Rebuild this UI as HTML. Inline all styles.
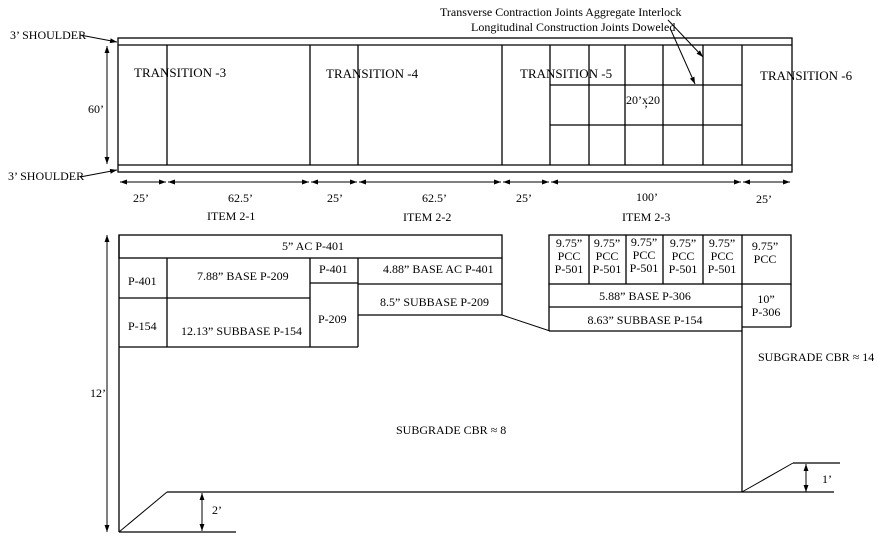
<!DOCTYPE html>
<html><head><meta charset="utf-8"><style>
html,body{margin:0;padding:0;background:#fff;}
svg{display:block;}
text{font-family:"Liberation Serif",serif;font-size:12px;fill:#000;}
.t{font-size:13px;}
</style></head><body>
<svg width="878" height="538" viewBox="0 0 878 538" xmlns="http://www.w3.org/2000/svg">
<defs>
<marker id="a" viewBox="0 0 10 10" refX="10" refY="5" markerWidth="7" markerHeight="7" orient="auto-start-reverse"><path d="M0,1.5 L10,5 L0,8.5 z" fill="#000"/></marker>
</defs>
<g stroke="#000" stroke-width="1.3" fill="none">
<!-- plan -->
<rect x="118" y="38" width="674" height="134"/>
<line x1="118" y1="45" x2="792" y2="45"/>
<line x1="118" y1="165" x2="792" y2="165"/>
<line x1="167" y1="45" x2="167" y2="165"/>
<line x1="310" y1="45" x2="310" y2="165"/>
<line x1="358" y1="45" x2="358" y2="165"/>
<line x1="502" y1="45" x2="502" y2="165"/>
<line x1="550" y1="45" x2="550" y2="165"/>
<line x1="589" y1="45" x2="589" y2="165"/>
<line x1="625" y1="45" x2="625" y2="165"/>
<line x1="663" y1="45" x2="663" y2="165"/>
<line x1="703" y1="45" x2="703" y2="165"/>
<line x1="742" y1="45" x2="742" y2="165"/>
<line x1="550" y1="85" x2="742" y2="85"/>
<line x1="550" y1="125" x2="742" y2="125"/>
</g>
<g stroke="#000" stroke-width="1" fill="none">
<line x1="80" y1="35" x2="117" y2="42" marker-end="url(#a)"/>
<line x1="80" y1="177" x2="117" y2="170" marker-end="url(#a)"/>
<line x1="107" y1="46" x2="107" y2="164" marker-start="url(#a)" marker-end="url(#a)"/>
<line x1="668" y1="20" x2="703" y2="57" marker-end="url(#a)"/>
<line x1="670" y1="28" x2="695" y2="84" marker-end="url(#a)"/>
<line x1="120" y1="182" x2="166" y2="182" marker-start="url(#a)" marker-end="url(#a)"/>
<line x1="168" y1="182" x2="309" y2="182" marker-start="url(#a)" marker-end="url(#a)"/>
<line x1="311" y1="182" x2="357" y2="182" marker-start="url(#a)" marker-end="url(#a)"/>
<line x1="359" y1="182" x2="501" y2="182" marker-start="url(#a)" marker-end="url(#a)"/>
<line x1="503" y1="182" x2="549" y2="182" marker-start="url(#a)" marker-end="url(#a)"/>
<line x1="551" y1="182" x2="741" y2="182" marker-start="url(#a)" marker-end="url(#a)"/>
<line x1="743" y1="182" x2="790" y2="182" marker-start="url(#a)" marker-end="url(#a)"/>
<line x1="107" y1="235" x2="107" y2="532" marker-start="url(#a)" marker-end="url(#a)"/>
<line x1="202" y1="493" x2="202" y2="531" marker-start="url(#a)" marker-end="url(#a)"/>
<line x1="806" y1="464" x2="806" y2="492" marker-start="url(#a)" marker-end="url(#a)"/>
<line x1="119" y1="532" x2="167" y2="492"/>
<line x1="742" y1="492" x2="793" y2="463"/>
<line x1="502" y1="315" x2="550" y2="331"/>
</g>
<g stroke="#000" stroke-width="1.3" fill="none">
<!-- section -->
<rect x="119" y="235" width="383" height="23"/>
<line x1="119" y1="235" x2="119" y2="532"/>
<line x1="119" y1="298" x2="310" y2="298"/>
<line x1="119" y1="347" x2="358" y2="347"/>
<line x1="167" y1="258" x2="167" y2="347"/>
<line x1="310" y1="258" x2="310" y2="347"/>
<line x1="358" y1="258" x2="358" y2="347"/>
<line x1="310" y1="283" x2="358" y2="283"/>
<line x1="358" y1="284" x2="502" y2="284"/>
<line x1="358" y1="315" x2="502" y2="315"/>
<line x1="502" y1="258" x2="502" y2="315"/>
<rect x="549" y="235" width="242" height="49"/>
<line x1="589" y1="235" x2="589" y2="284"/>
<line x1="626" y1="235" x2="626" y2="284"/>
<line x1="663" y1="235" x2="663" y2="284"/>
<line x1="703" y1="235" x2="703" y2="284"/>
<line x1="742" y1="235" x2="742" y2="492"/>
<line x1="549" y1="284" x2="549" y2="331"/>
<line x1="549" y1="307" x2="742" y2="307"/>
<line x1="549" y1="331" x2="742" y2="331"/>
<line x1="791" y1="284" x2="791" y2="327"/>
<line x1="742" y1="327" x2="791" y2="327"/>
<line x1="119" y1="532" x2="236" y2="532"/>
<line x1="167" y1="492" x2="742" y2="492"/>
<line x1="742" y1="492" x2="834" y2="492"/>
<line x1="793" y1="463" x2="840" y2="463"/>
</g>
<text x="440" y="16">Transverse Contraction Joints Aggregate Interlock</text>
<text x="471" y="31">Longitudinal Construction Joints Doweled</text>
<text x="10" y="39">3’ SHOULDER</text>
<text x="8" y="180">3’ SHOULDER</text>
<text x="88" y="113">60’</text>
<text class="t" x="134" y="77">TRANSITION -3</text>
<text class="t" x="326" y="78">TRANSITION -4</text>
<text class="t" x="520" y="78">TRANSITION -5</text>
<text class="t" x="760" y="80">TRANSITION -6</text>
<text x="626" y="104">20’x20</text>
<text x="644" y="113">’</text>
<text x="133" y="202">25’</text>
<text x="228" y="202">62.5’</text>
<text x="327" y="202">25’</text>
<text x="422" y="202">62.5’</text>
<text x="516" y="202">25’</text>
<text x="636" y="201">100’</text>
<text x="756" y="203">25’</text>
<text x="207" y="220">ITEM 2-1</text>
<text x="403" y="221">ITEM 2-2</text>
<text x="622" y="221">ITEM 2-3</text>
<text x="282" y="250">5” AC  P-401</text>
<text x="128" y="285">P-401</text>
<text x="197" y="280">7.88”  BASE  P-209</text>
<text x="319" y="273">P-401</text>
<text x="383" y="273">4.88” BASE AC P-401</text>
<text x="128" y="330">P-154</text>
<text x="181" y="335">12.13” SUBBASE  P-154</text>
<text x="318" y="323">P-209</text>
<text x="380" y="306">8.5” SUBBASE  P-209</text>
<g text-anchor="middle">
<text x="569" y="247">9.75”</text><text x="569" y="260">PCC</text><text x="569" y="273">P-501</text>
<text x="607" y="247">9.75”</text><text x="607" y="260">PCC</text><text x="607" y="273">P-501</text>
<text x="644" y="246">9.75”</text><text x="644" y="259">PCC</text><text x="644" y="272">P-501</text>
<text x="683" y="247">9.75”</text><text x="683" y="260">PCC</text><text x="683" y="273">P-501</text>
<text x="722" y="247">9.75”</text><text x="722" y="260">PCC</text><text x="722" y="273">P-501</text>
<text x="765" y="250">9.75”</text><text x="765" y="263">PCC</text>
<text x="645" y="300">5.88” BASE  P-306</text>
<text x="645" y="324">8.63” SUBBASE  P-154</text>
<text x="766" y="303">10”</text><text x="766" y="316">P-306</text>
</g>
<text x="758" y="361">SUBGRADE CBR ≈ 14</text>
<text x="396" y="434">SUBGRADE CBR ≈ 8</text>
<text x="90" y="397">12’</text>
<text x="212" y="514">2’</text>
<text x="822" y="483">1’</text>
</svg>
</body></html>
